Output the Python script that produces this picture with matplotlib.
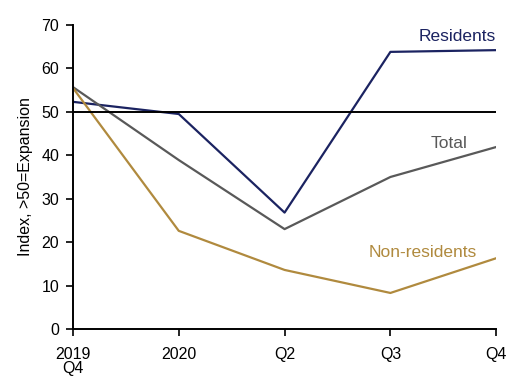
import matplotlib.pyplot as plt

plt.rcParams['font.family'] = ['Liberation Sans', 'DejaVu Sans']

quarters = ['2019\nQ4', '2020', 'Q2', 'Q3', 'Q4']
residents = [52.3, 49.5, 26.8, 63.8, 64.2]
total = [55.7, 38.9, 23.0, 35.0, 41.9]
non_residents = [55.5, 22.6, 13.6, 8.3, 16.3]

navy = '#1b2361'
grey = '#595959'
gold = '#b08a3e'

fig = plt.figure(figsize=(5.1, 3.78), dpi=100)
ax = fig.add_axes([0.143, 0.1296, 0.830, 0.8044])

x = list(range(len(quarters)))
ax.plot(x, residents, color=navy, lw=1.6)
ax.plot(x, total, color=grey, lw=1.6)
ax.plot(x, non_residents, color=gold, lw=1.6)
ax.axhline(50, color='black', lw=1.4)

ax.text(4.0, 66.3, 'Residents', color=navy, fontsize=12.5, ha='right', va='baseline')
ax.text(3.55, 41.7, 'Total', color=grey, fontsize=12.5, ha='center', va='baseline')
ax.text(3.305, 16.6, 'Non-residents', color=gold, fontsize=12.5, ha='center', va='baseline')

ax.set_xlim(0, 4)
ax.set_ylim(0, 70)
ax.set_yticks(range(0, 71, 10))
ax.set_xticks(x)
ax.set_xticklabels(quarters, fontsize=11.5, linespacing=0.95)
ax.tick_params(axis='y', labelsize=11.5, direction='out', length=5, width=1.2, pad=5)
ax.tick_params(axis='x', direction='out', length=5, width=1.2, pad=8)
ax.set_ylabel('Index, >50=Expansion', fontsize=11.5, labelpad=6)

for side in ['top', 'right']:
    ax.spines[side].set_visible(False)
for side in ['left', 'bottom']:
    ax.spines[side].set_linewidth(1.4)
for lbl in ax.get_xticklabels():
    lbl.set_clip_on(False)

fig.savefig('out.png', dpi=100)
